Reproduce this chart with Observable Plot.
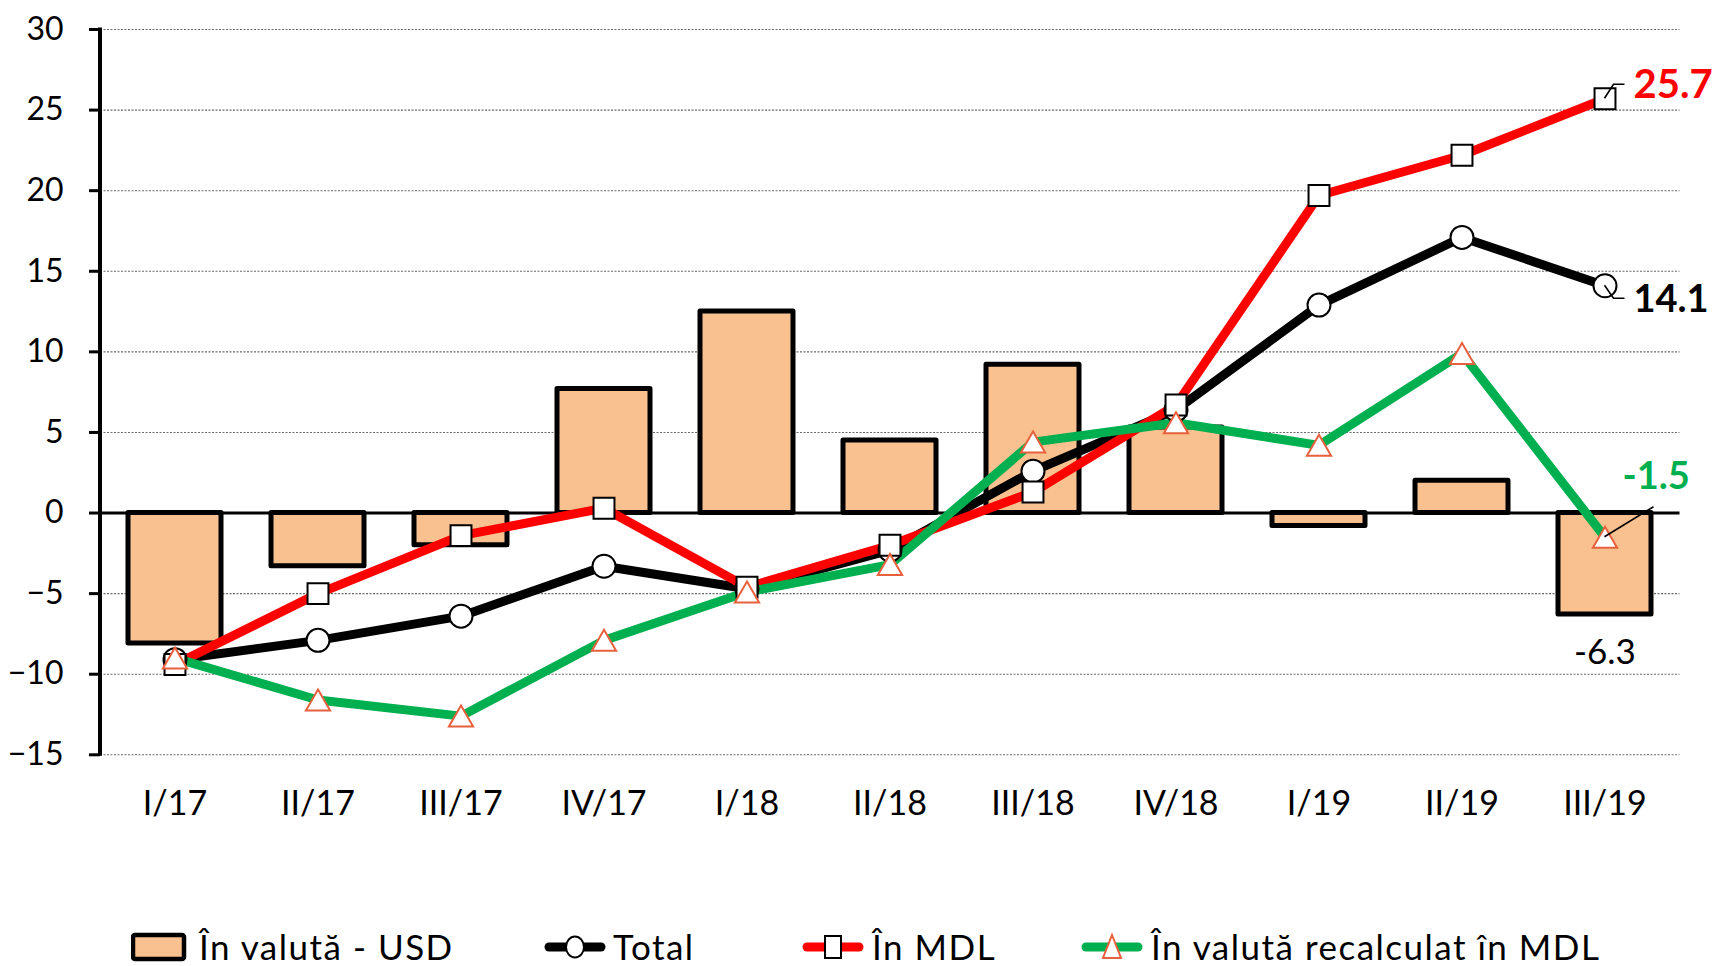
<!DOCTYPE html>
<html>
<head>
<meta charset="utf-8">
<script src="https://cdn.jsdelivr.net/npm/d3@7"></script>
<script src="https://cdn.jsdelivr.net/npm/@observablehq/plot@0.6"></script>
<style>
  body { margin: 0; background: #fff; font-family: Lato, "Noto Sans", sans-serif; }
  #wrap { position: relative; width: 1715px; height: 966px; }
  #legend { position: relative; width: 1715px; height: 61px; }
  .item { position: absolute; top: 22px; height: 40px; display: flex; align-items: center; }
  .item svg { display: block; }
  .lbl { position: absolute; top: 23.5px; font-size: 35px; letter-spacing: 1.5px; color: #000; white-space: nowrap; line-height: 34px; height: 34px; }
</style>
</head>
<body>
<div id="wrap">
  <div id="chart"></div>
  <div id="legend"></div>
</div>
<script>
// ---- data ----
const quarters = ["I/17","II/17","III/17","IV/17","I/18","II/18","III/18","IV/18","I/19","II/19","III/19"];
const usdValues    = [-8.1, -3.3, -2.0, 7.7, 12.5, 4.5, 9.2, 5.3, -0.8, 2.0, -6.3];
const totalValues  = [-9.1, -7.9, -6.4, -3.3, -4.7, -2.3, 2.6, 6.4, 12.9, 17.1, 14.1];
const mdlValues    = [-9.4, -5.0, -1.4, 0.3, -4.6, -2.0, 1.3, 6.7, 19.7, 22.2, 25.7];
const recalcValues = [-9.0, -11.6, -12.6, -7.9, -4.9, -3.2, 4.4, 5.6, 4.2, 9.9, -1.5];
const yTicks = [-15, -10, -5, 0, 5, 10, 15, 20, 25, 30];
const seriesNames = ["În valută - USD", "Total", "În MDL", "În valută recalculat în MDL"];

// ---- styles ----
const BAR_FILL = "#F8C18F";
const RED = "#FF0000", GREEN = "#00B050", BLACK = "#000000", TRI = "#E8603C";
const LINE_W = 9;

const rows = quarters.map((q, i) => ({q, usd: usdValues[i], total: totalValues[i], mdl: mdlValues[i], recalc: recalcValues[i]}));
const last = rows[rows.length - 1];

const W = 1715, H = 905;
const yBottom = 754.3;

const leaders = [
  {q: last.q, v: last.mdl, path: [[0, 0], [9, -14], [20, -14]]},
  {q: last.q, v: last.total, path: [[0, 0], [9, 13], [20, 13]]},
  {q: last.q, v: last.recalc, path: [[0, 0], [49, -30]]}
];

function leaderMark(index, scales) {
  const {x, y} = scales;
  const bw = typeof x.bandwidth === "function" ? x.bandwidth() : 0;
  const g = d3.create("svg:g").attr("fill", "none").attr("stroke", "#000").attr("stroke-width", 1.6);
  for (const L of leaders) {
    const cx = x(L.q) + bw / 2, cy = y(L.v);
    g.append("path").attr("d", d3.line()(L.path.map(([dx, dy]) => [cx + dx, cy + dy])));
  }
  return g.node();
}

function yAxisLine(index, scales, values, dims) {
  const x0 = dims.marginLeft;
  return d3.create("svg:line")
    .attr("x1", x0).attr("x2", x0)
    .attr("y1", dims.marginTop - 1.5).attr("y2", dims.height - dims.marginBottom + 1.5)
    .attr("stroke", "#000").attr("stroke-width", 4).node();
}

const chart = Plot.plot({
  width: W,
  height: H,
  marginLeft: 100,
  marginRight: 35.5,
  marginTop: 29,
  marginBottom: H - yBottom,
  style: {fontFamily: "Lato, 'Noto Sans', sans-serif", background: "white", overflow: "visible", color: "#000"},
  x: {domain: quarters, padding: 0, label: null},
  y: {domain: [-15, 30], label: null},
  marks: [
    Plot.ruleY(yTicks.filter(d => d !== 0), {stroke: "#6a6a6a", strokeWidth: 1.1, strokeDasharray: "2,1.5"}),
    Plot.barY(rows, {x: "q", y: "usd", fill: BAR_FILL, stroke: BLACK, strokeWidth: 5, strokeLinejoin: "round", insetLeft: 25, insetRight: 25}),
    Plot.ruleY([0], {stroke: BLACK, strokeWidth: 3}),
    yAxisLine,
    Plot.axisY({ticks: yTicks, tickSize: 11, tickPadding: 26, fontSize: 32, strokeWidth: 3, label: null}),
    Plot.axisX({tickSize: 0, tickPadding: 36, fontSize: 34, label: null}),
    Plot.line(rows, {x: "q", y: "total", stroke: BLACK, strokeWidth: LINE_W, strokeLinejoin: "round"}),
    Plot.line(rows, {x: "q", y: "mdl", stroke: RED, strokeWidth: LINE_W, strokeLinejoin: "round"}),
    Plot.line(rows, {x: "q", y: "recalc", stroke: GREEN, strokeWidth: LINE_W, strokeLinejoin: "round"}),
    Plot.dot(rows, {x: "q", y: "total", r: 11.5, fill: "white", stroke: BLACK, strokeWidth: 2}),
    Plot.dot(rows, {x: "q", y: "mdl", symbol: "square", r: 11.8, fill: "white", stroke: BLACK, strokeWidth: 2}),
    Plot.dot(rows, {x: "q", y: "recalc", symbol: "triangle", r: 9, dy: 3.5, fill: "white", stroke: TRI, strokeWidth: 2}),
    leaderMark,
    Plot.text([last], {x: "q", y: "mdl", text: d => d.mdl.toFixed(1), textAnchor: "start", lineAnchor: "middle", dx: 28.5, dy: -14, fill: RED, fontWeight: "bold", fontSize: 40}),
    Plot.text([last], {x: "q", y: "total", text: d => d.total.toFixed(1), textAnchor: "start", lineAnchor: "middle", dx: 28.5, dy: 14, fill: BLACK, fontWeight: "bold", fontSize: 38}),
    Plot.text([last], {x: "q", y: "recalc", text: d => d.recalc.toFixed(1), textAnchor: "start", lineAnchor: "middle", dx: 17.5, dy: -60, fill: GREEN, fontWeight: "bold", fontSize: 38}),
    Plot.text([last], {x: "q", y: "usd", text: d => d.usd.toFixed(1), textAnchor: "middle", lineAnchor: "middle", dy: 38, fill: BLACK, fontSize: 35})
  ]
});
document.getElementById("chart").appendChild(chart);

// ---- legend ----
const legend = d3.select("#legend");
const items = [
  {name: seriesNames[0], kind: "bar", left: 131, textLeft: 199},
  {name: seriesNames[1], kind: "circle", color: BLACK, left: 544, textLeft: 613},
  {name: seriesNames[2], kind: "square", color: RED, left: 802, textLeft: 872},
  {name: seriesNames[3], kind: "triangle", color: GREEN, left: 1081, textLeft: 1151}
];
for (const it of items) {
  const div = legend.append("div").attr("class", "item").style("left", it.left + "px");
  const svg = div.append("svg").attr("width", 64).attr("height", 40);
  if (it.kind === "bar") {
    svg.append("rect").attr("x", 2).attr("y", 8).attr("width", 51).attr("height", 24).attr("rx", 2)
      .attr("fill", BAR_FILL).attr("stroke", BLACK).attr("stroke-width", 4.5);
  } else {
    svg.append("line").attr("x1", 5).attr("x2", 57).attr("y1", 20).attr("y2", 20)
      .attr("stroke", it.color).attr("stroke-width", 9).attr("stroke-linecap", "round");
    if (it.kind === "circle") {
      svg.append("ellipse").attr("cx", 31).attr("cy", 20).attr("rx", 9).attr("ry", 10.5).attr("fill", "white").attr("stroke", BLACK).attr("stroke-width", 2);
    } else if (it.kind === "square") {
      svg.append("rect").attr("x", 23).attr("y", 9).attr("width", 16).attr("height", 22).attr("fill", "white").attr("stroke", BLACK).attr("stroke-width", 2);
    } else {
      svg.append("path").attr("d", "M31,8 L40,31 L22,31 Z").attr("fill", "white").attr("stroke", TRI).attr("stroke-width", 2);
    }
  }
  legend.append("span").attr("class", "lbl").style("left", it.textLeft + "px").text(it.name);
}
</script>
</body>
</html>
